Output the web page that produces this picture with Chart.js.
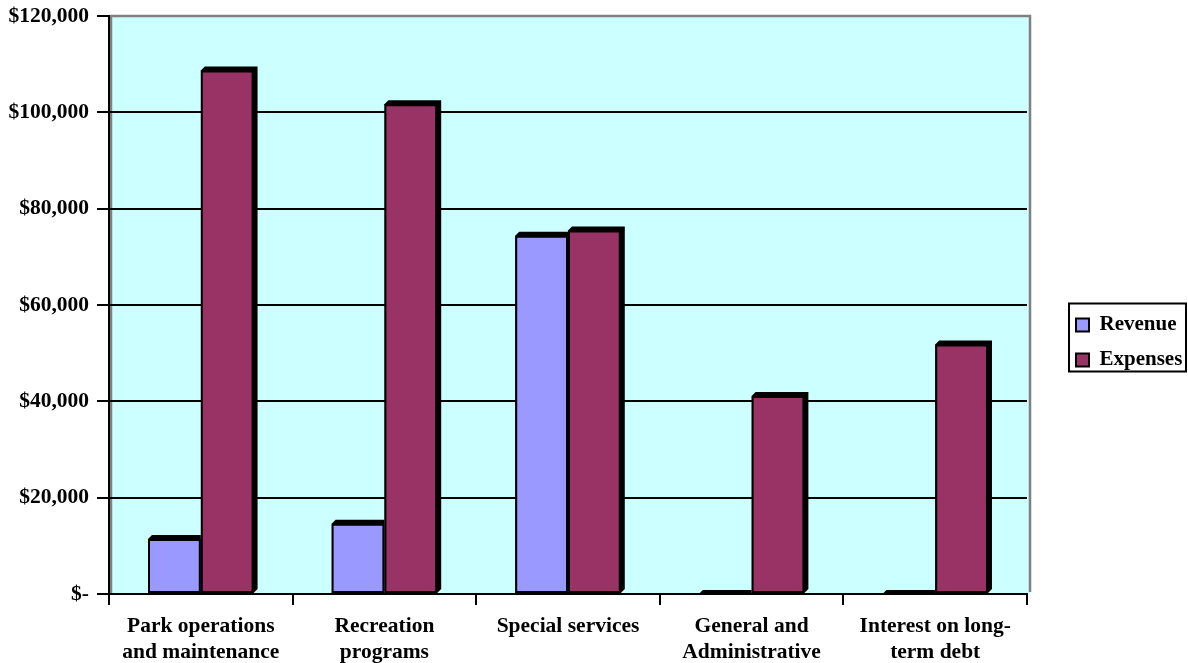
<!DOCTYPE html>
<html>
<head>
<meta charset="utf-8">
<script src="https://cdn.jsdelivr.net/npm/chart.js@4/dist/chart.umd.min.js"></script>
<style>
  html, body { margin: 0; padding: 0; background: #ffffff; }
  #wrap { width: 1188px; height: 663px; position: relative; }
</style>
</head>
<body>
<div id="wrap"><canvas id="c" width="1188" height="663"></canvas></div>
<script>
const categories = [
  ['Park operations', 'and maintenance'],
  ['Recreation', 'programs'],
  ['Special services'],
  ['General and', 'Administrative'],
  ['Interest on long-', 'term debt']
];
const revenue  = [11400, 14600, 74400, 0, 0];
const expenses = [108700, 101700, 75500, 41100, 51800];
const yTickLabels = ['$-', '$20,000', '$40,000', '$60,000', '$80,000', '$100,000', '$120,000'];

const FONT = 'Liberation Serif, Times New Roman, serif';
const FSIZE = 21.5;
const LEGEND_WIDTH = 161;
const LEGEND_SHIFT = 35;
const DEPTH = 4;

const plotBg = {
  id: 'plotBg',
  beforeDraw(chart) {
    const {ctx, chartArea: a} = chart;
    ctx.save();
    ctx.fillStyle = '#CCFFFF';
    ctx.fillRect(a.left, a.top, a.right - a.left + 3, a.bottom - a.top);
    ctx.strokeStyle = '#808080';
    ctx.lineWidth = 2.5;
    ctx.beginPath();
    ctx.moveTo(a.left + 2, a.bottom);
    ctx.lineTo(a.left + 2, a.top);
    ctx.lineTo(a.right + 3, a.top);
    ctx.lineTo(a.right + 3, a.bottom - 2);
    ctx.stroke();
    ctx.restore();
  }
};

const legendFit = {
  id: 'legendFit',
  beforeLayout(chart) {
    const lg = chart.legend;
    if (lg && !lg._patchedFit) {
      const orig = lg.fit;
      lg.fit = function () { orig.call(this); this.width = LEGEND_WIDTH; };
      lg._patchedFit = true;
    }
  },
  afterLayout(chart) {
    const lg = chart.legend;
    if (lg) {
      lg.left += LEGEND_SHIFT;
      lg.top += 11;
      lg.bottom += 11;
    }
  },
  afterDraw(chart) {
    const lg = chart.legend;
    if (!lg || !lg.legendHitBoxes || !lg.legendHitBoxes.length) return;
    const hb = lg.legendHitBoxes;
    const first = hb[0], last = hb[hb.length - 1];
    const {ctx} = chart;
    ctx.save();
    ctx.strokeStyle = '#000000';
    ctx.lineWidth = 2;
    const x0 = first.left - 7;
    const y0 = first.top - 11;
    const x1 = 1186;
    const y1 = last.top + last.height + 1;
    ctx.strokeRect(x0, y0, x1 - x0, y1 - y0);
    ctx.restore();
  }
};

// dark "depth" face behind each bar, placed from the library's own bar elements
const depth = {
  id: 'depth',
  beforeDatasetDraw(chart, args) {
    const ctx = chart.ctx;
    const a = chart.chartArea;
    ctx.save();
    ctx.beginPath();
    ctx.rect(a.left, a.top - 8, a.right - a.left + 8, a.bottom - a.top + 12);
    if (args.index === 0) {
      const other = chart.getDatasetMeta(1);
      other.data.forEach(el => {
        const p = el.getProps(['x', 'y', 'base', 'width'], true);
        ctx.rect(p.x - p.width / 2, p.y - DEPTH - 2, p.width + DEPTH + 2, p.base - p.y + DEPTH + 2);
      });
    }
    ctx.clip('evenodd');
    ctx.fillStyle = '#000000';
    args.meta.data.forEach(el => {
      const p = el.getProps(['x', 'y', 'base', 'width'], true);
      const left = p.x - p.width / 2;
      const h = p.base - p.y;
      ctx.beginPath();
      if (h > 0.5) {
        ctx.moveTo(left, p.y);
        ctx.lineTo(left + DEPTH, p.y - DEPTH);
        ctx.lineTo(left + p.width + DEPTH, p.y - DEPTH);
        ctx.lineTo(left + p.width + DEPTH, p.base - DEPTH);
        ctx.lineTo(left + p.width, p.base);
        ctx.lineTo(left, p.base);
      } else {
        ctx.moveTo(left, p.base);
        ctx.lineTo(left + DEPTH, p.base - DEPTH);
        ctx.lineTo(left + p.width + DEPTH, p.base - DEPTH);
        ctx.lineTo(left + p.width, p.base);
      }
      ctx.closePath();
      ctx.fill();
    });
    ctx.restore();
  }
};

new Chart(document.getElementById('c'), {
  type: 'bar',
  data: {
    labels: categories,
    datasets: [
      {
        label: 'Revenue',
        data: revenue,
        backgroundColor: '#9999FF',
        borderColor: '#000000',
        borderWidth: 2,
        borderSkipped: false
      },
      {
        label: 'Expenses',
        data: expenses,
        backgroundColor: '#993366',
        borderColor: '#000000',
        borderWidth: 2,
        borderSkipped: false
      }
    ]
  },
  options: {
    responsive: false,
    animation: false,
    devicePixelRatio: 1,
    layout: { padding: { top: 0, left: 0, right: 0, bottom: 0 } },
    datasets: {
      bar: { categoryPercentage: 0.575, barPercentage: 1.0 }
    },
    scales: {
      x: {
        grid: {
          offset: true,
          drawOnChartArea: false,
          drawTicks: true,
          tickLength: 11,
          tickColor: '#000000',
          lineWidth: 2
        },
        border: { display: true, color: '#000000', width: 2 },
        ticks: {
          color: '#000000',
          padding: 8,
          maxRotation: 0,
          autoSkip: false,
          font: { family: FONT, size: FSIZE, weight: 'bold', lineHeight: '26px' }
        },
        afterFit(scale) { scale.height = 69; }
      },
      y: {
        min: 0,
        max: 120000,
        ticks: {
          stepSize: 20000,
          color: '#000000',
          padding: 8,
          font: { family: FONT, size: FSIZE, weight: 'bold', lineHeight: 0.75 },
          callback: (v) => yTickLabels[Math.round(v / 20000)]
        },
        grid: {
          color: (c) => (c.tick && c.tick.value === 120000 ? '#808080' : '#000000'),
          lineWidth: 2,
          tickLength: 12,
          tickColor: '#000000',
          drawTicks: true
        },
        border: { display: true, color: '#000000', width: 2 },
        afterFit(scale) { scale.width = 109; }
      }
    },
    plugins: {
      legend: {
        position: 'right',
        align: 'center',
        labels: {
          color: '#000000',
          boxWidth: 13,
          boxHeight: 13,
          padding: 14,
          font: { family: FONT, size: 21, weight: 'bold' },
          generateLabels(chart) {
            return chart.data.datasets.map((ds, i) => ({
              text: ds.label,
              fillStyle: ds.backgroundColor,
              strokeStyle: '#000000',
              lineWidth: 2,
              hidden: false,
              datasetIndex: i,
              fontColor: '#000000'
            }));
          }
        }
      },
      tooltip: { enabled: false },
      title: { display: false }
    }
  },
  plugins: [plotBg, legendFit, depth]
});
</script>
</body>
</html>
